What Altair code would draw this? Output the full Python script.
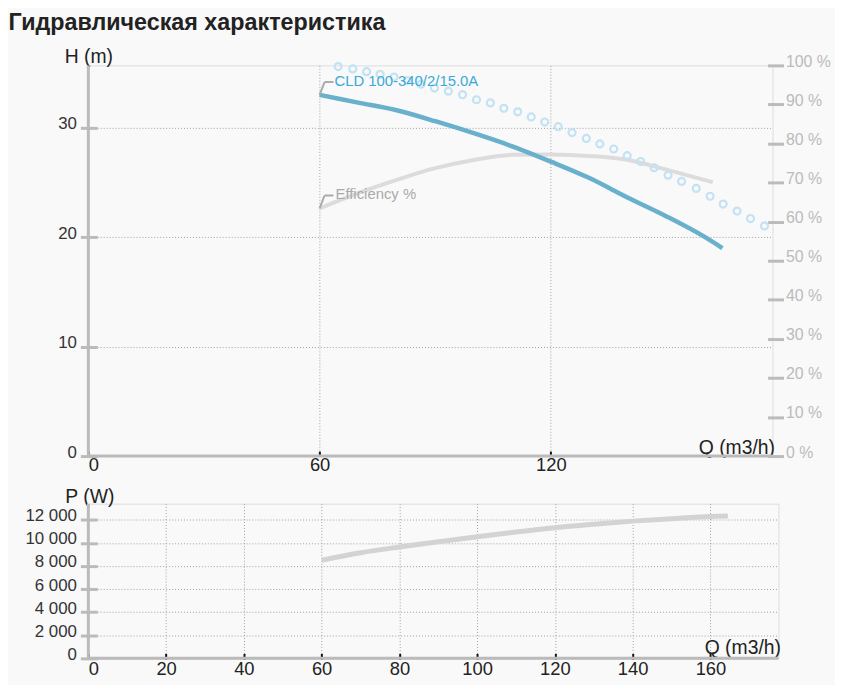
import altair as alt
import pandas as pd

TITLE = "Гидравлическая характеристика"
PUMP_NAME = "CLD 100-340/2/15.0A"
EFF_LABEL = "Efficiency %"
H_TITLE = "H (m)"
P_TITLE = "P (W)"
Q_TITLE = "Q (m3/h)"

# Head curve H(Q)
q_head = [60, 70, 80, 90, 100, 110, 120, 130, 140, 150, 160, 164.5]
h_head = [33.0, 32.3, 31.6, 30.6, 29.5, 28.3, 26.9, 25.4, 23.6, 21.9, 20.0, 19.0]

# Efficiency curve (%)
q_eff = [60, 70, 80, 90, 100, 110, 120, 130, 140, 150, 162]
eff = [63.4, 67.3, 70.7, 73.7, 75.8, 77.1, 77.2, 76.8, 75.8, 73.3, 70.1]

# Dotted (circle) curve on the % axis
q_circ = [64.8, 68.6, 72.2, 75.7, 79.3, 82.8, 86.3, 89.8, 93.4, 97.1, 100.7, 104.3,
          107.8, 111.4, 114.9, 118.4, 121.9, 125.5, 129.2, 132.7, 136.3, 139.8,
          143.3, 146.8, 150.4, 153.9, 157.7, 161.3, 164.7, 168.3, 171.8, 175.4]
pct_circ = [99.7, 99.1, 98.4, 97.7, 97.0, 96.1, 95.2, 94.2, 93.4, 92.5, 91.2, 90.4,
            89.0, 88.1, 86.8, 85.5, 84.3, 82.8, 81.3, 79.9, 78.6, 76.9,
            75.4, 73.8, 71.9, 70.3, 68.5, 66.5, 64.5, 62.7, 60.8, 58.9]

# Power curve P(Q)
q_pow = [60, 70, 80, 90, 100, 110, 120, 130, 140, 150, 160, 164.5]
p_pow = [8500, 9150, 9650, 10100, 10540, 10950, 11320, 11620, 11890, 12100, 12290, 12330]

top_q_ticks = [0, 60, 120]
h_ticks = [0, 10, 20, 30]
pct_ticks = [0, 10, 20, 30, 40, 50, 60, 70, 80, 90, 100]
bottom_q_ticks = [0, 20, 40, 60, 80, 100, 120, 140, 160]
p_ticks = [0, 2000, 4000, 6000, 8000, 10000, 12000]

Q_MAX = 177.5
H_MAX = 35.7
P_MAX = 13400

FONT = "Liberation Sans"
AXIS_GRAY = "#bbbbbb"
GRID = dict(grid=True, gridColor="#a0a0a0", gridDash=[1, 2], gridWidth=1)

TOP_W, TOP_H = 690, 394
BOT_W, BOT_H = 696, 156

head_df = pd.DataFrame({"Q": q_head, "H": h_head})
eff_df = pd.DataFrame({"Q": q_eff, "E": eff})
circ_df = pd.DataFrame({"Q": q_circ, "E": pct_circ})
pow_df = pd.DataFrame({"Q": q_pow, "P": p_pow})
head_first = head_df.iloc[[0]].assign(label=PUMP_NAME)
eff_first = eff_df.iloc[[0]].assign(label=EFF_LABEL)

# ---------------- top chart ----------------
x_top_axis = alt.Axis(values=top_q_ticks, offset=-5, tickSize=5, tickWidth=2, tickColor="#111",
                      domain=False, labelPadding=0, labelFontSize=18.5, labelColor="#222",
                      labelFont=FONT, title=Q_TITLE, titleFont=FONT, titleFontSize=19.5,
                      titleFontWeight="normal", titleColor="#222", titleAngle=0,
                      titleX=TOP_W + 2, titleY=-4, titleAlign="right", titleBaseline="middle",
                      **GRID)
q_top_scale = alt.Scale(domain=[0, Q_MAX], nice=False, zero=False)
x_top = alt.X("Q:Q", scale=q_top_scale, axis=x_top_axis)

h_scale = alt.Scale(domain=[0, H_MAX], nice=False, zero=False)
h_axis = alt.Axis(values=h_ticks, orient="left", offset=-9, tickSize=17, tickWidth=3,
                  tickColor=AXIS_GRAY, domain=False, labelPadding=4, labelOffset=-4,
                  labelFontSize=17, labelColor="#333", labelFont=FONT,
                  title=H_TITLE, titleFont=FONT, titleFontSize=19.5, titleFontWeight="normal",
                  titleColor="#222", titleAngle=0, titleX=-9, titleY=-9,
                  titleAlign="center", titleBaseline="middle", **GRID)
y_h = alt.Y("H:Q", scale=h_scale, axis=h_axis)

pct_scale = alt.Scale(domain=[0, 100], nice=False, zero=False)
pct_axis = alt.Axis(values=pct_ticks, orient="right", offset=-5, tickSize=16, tickWidth=3,
                    tickColor=AXIS_GRAY, domain=False, labelPadding=2, labelOffset=-4,
                    labelFontSize=16, labelColor=AXIS_GRAY, labelFont=FONT,
                    labelExpr="datum.value + ' %'", title=None, grid=False)
y_pct = alt.Y("E:Q", scale=pct_scale, axis=pct_axis)

LEAD = dict(color="#aaaaaa", strokeWidth=2)

head_line = alt.Chart(head_df).mark_line(color="#68b0cc", strokeWidth=4.5, interpolate="monotone").encode(
    x=x_top, y=y_h)
head_lead1 = alt.Chart(head_first).mark_rule(x2Offset=5, y2Offset=-13, **LEAD).encode(
    x=x_top, x2=alt.X2("Q"), y=y_h, y2=alt.Y2("H"))
head_lead2 = alt.Chart(head_first).mark_rule(xOffset=5, x2Offset=14, yOffset=-13, y2Offset=-13,
                                             **LEAD).encode(
    x=x_top, x2=alt.X2("Q"), y=y_h, y2=alt.Y2("H"))
head_text = alt.Chart(head_first).mark_text(align="left", baseline="middle", dx=15, dy=-14,
                                            fontSize=15, font=FONT, color="#3ba9d9").encode(
    x=x_top, y=y_h, text="label:N")
x_axis_line = alt.Chart(head_first).mark_rule(color=AXIS_GRAY, strokeWidth=3).encode(
    y=alt.Y(datum=0, type="quantitative", scale=h_scale, axis=h_axis))
y_axis_line = alt.Chart(head_first).mark_rule(color=AXIS_GRAY, strokeWidth=3).encode(
    x=alt.X(datum=0, type="quantitative", scale=q_top_scale, axis=x_top_axis))

h_group = alt.layer(head_line, head_lead1, head_lead2, head_text, x_axis_line, y_axis_line)

eff_line = alt.Chart(eff_df).mark_line(color="#dcdcdc", strokeWidth=4, interpolate="monotone").encode(
    x=x_top, y=y_pct)
circ_pts = alt.Chart(circ_df).mark_point(shape="circle", filled=False, size=50, strokeWidth=2.2,
                                         color="#c3e2f2", opacity=1).encode(x=x_top, y=y_pct)
eff_lead1 = alt.Chart(eff_first).mark_rule(x2Offset=5, y2Offset=-13, **LEAD).encode(
    x=x_top, x2=alt.X2("Q"), y=y_pct, y2=alt.Y2("E"))
eff_lead2 = alt.Chart(eff_first).mark_rule(xOffset=5, x2Offset=14, yOffset=-13, y2Offset=-13,
                                           **LEAD).encode(
    x=x_top, x2=alt.X2("Q"), y=y_pct, y2=alt.Y2("E"))
eff_text = alt.Chart(eff_first).mark_text(align="left", baseline="middle", dx=16, dy=-14,
                                          fontSize=15, font=FONT, color="#aaaaaa").encode(
    x=x_top, y=y_pct, text="label:N")

pct_group = alt.layer(eff_line, circ_pts, eff_lead1, eff_lead2, eff_text)

top = alt.layer(pct_group, h_group).resolve_scale(y="independent").properties(width=TOP_W, height=TOP_H)

# ---------------- bottom chart ----------------
qb_scale = alt.Scale(domain=[0, Q_MAX], nice=False, zero=False)
x_bot_axis = alt.Axis(values=bottom_q_ticks, offset=-5, tickSize=6, tickWidth=2, tickColor="#111",
                      domain=False, labelPadding=0, labelFontSize=18.5, labelColor="#222",
                      labelFont=FONT, title=Q_TITLE, titleFont=FONT, titleFontSize=19.5,
                      titleFontWeight="normal", titleColor="#222", titleAngle=0,
                      titleX=BOT_W + 2, titleY=-6, titleAlign="right", titleBaseline="middle",
                      **GRID)
x_bot = alt.X("Q:Q", scale=qb_scale, axis=x_bot_axis)
p_scale = alt.Scale(domain=[0, P_MAX], nice=False, zero=False)
p_axis = alt.Axis(values=p_ticks, orient="left", offset=-9, tickSize=17, tickWidth=3,
                  tickColor=AXIS_GRAY, domain=False, labelPadding=4, labelOffset=-4,
                  labelFontSize=17, labelColor="#333", labelFont=FONT,
                  labelExpr="datum.value >= 1000 ? floor(datum.value / 1000) + ' 000' : datum.value + ''",
                  title=P_TITLE, titleFont=FONT, titleFontSize=19.5, titleFontWeight="normal",
                  titleColor="#222", titleAngle=0, titleX=-8, titleY=-7,
                  titleAlign="center", titleBaseline="middle", **GRID)
y_p = alt.Y("P:Q", scale=p_scale, axis=p_axis)

pow_line = alt.Chart(pow_df).mark_line(color="#d3d3d3", strokeWidth=5, interpolate="monotone").encode(
    x=x_bot, y=y_p)
bx_line = alt.Chart(pow_df.iloc[[0]]).mark_rule(color=AXIS_GRAY, strokeWidth=3).encode(
    y=alt.Y(datum=0, type="quantitative", scale=p_scale, axis=p_axis))
by_line = alt.Chart(pow_df.iloc[[0]]).mark_rule(color=AXIS_GRAY, strokeWidth=3).encode(
    x=alt.X(datum=0, type="quantitative", scale=qb_scale, axis=x_bot_axis))

bottom = alt.layer(pow_line, bx_line, by_line).properties(width=BOT_W, height=BOT_H)

chart = alt.vconcat(top, bottom, spacing=48, bounds="flush").properties(
    title=alt.TitleParams(TITLE, anchor="start", fontSize=23.5, fontWeight="bold", color="#222",
                          font=FONT, dx=-16, offset=12),
    padding={"left": 0, "top": 0, "right": 4, "bottom": 4},
    background="#f9f9f9",
).configure_view(fill="white", stroke=None).configure(font=FONT)

chart.save("out.html", embed_options={"renderer": "svg", "actions": False})
